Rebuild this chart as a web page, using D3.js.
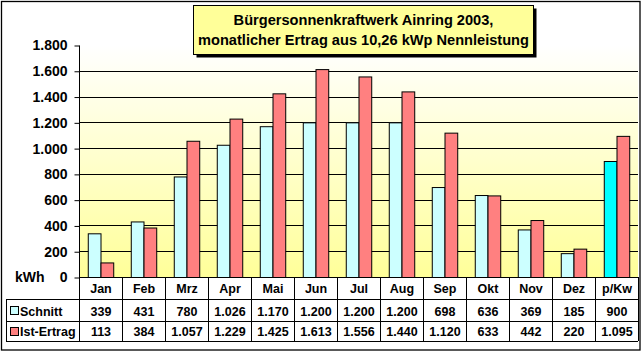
<!DOCTYPE html>
<html>
<head>
<meta charset="utf-8">
<script src="https://cdn.jsdelivr.net/npm/d3@7"></script>
<style>
  body { margin: 0; background: #fff; }
  text { font-family: "Liberation Sans", Arial, sans-serif; font-weight: bold; fill: #000; }
</style>
</head>
<body>
<div id="chart"></div>
<script>
// data
const months = ["Jan", "Feb", "Mrz", "Apr", "Mai", "Jun", "Jul", "Aug", "Sep", "Okt", "Nov", "Dez", "p/Kw"];
const schnitt = [339, 431, 780, 1026, 1170, 1200, 1200, 1200, 698, 636, 369, 185, 900];
const istErtrag = [113, 384, 1057, 1229, 1425, 1613, 1556, 1440, 1120, 633, 442, 220, 1095];
const seriesNames = ["Schnitt", "Ist-Ertrag"];
const yTicks = [0, 200, 400, 600, 800, 1000, 1200, 1400, 1600, 1800];
const titleLines = ["Bürgersonnenkraftwerk Ainring 2003,", "monatlicher Ertrag aus 10,26 kWp Nennleistung"];

const width = 644, height = 352;
const plot = {left: 79, right: 638, top: 45, bottom: 277};
const tableLeft = 6, rowH = [22, 22, 20];

const colors = {"Schnitt": "#CCFFFF", "Ist-Ertrag": "#FF8080"};
const highlight = "#00FFFF"; // last Schnitt bar

const de = d3.formatLocale({decimal: ",", thousands: ".", grouping: [3], currency: ["", "€"]});
const fmt = de.format(",d");

const svg = d3.select("#chart").append("svg")
  .attr("width", width).attr("height", height);

// outer frame
svg.append("rect")
  .attr("x", 1.5).attr("y", 1.5).attr("width", 638.5).attr("height", 348.5)
  .attr("fill", "#fff").attr("stroke", "#000").attr("stroke-width", 1.3);

const defs = svg.append("defs");
const grad = defs.append("linearGradient").attr("id", "bg").attr("x1", 0).attr("y1", 0).attr("x2", 0).attr("y2", 1);
grad.append("stop").attr("offset", "0%").attr("stop-color", "#FFFFFF");
grad.append("stop").attr("offset", "100%").attr("stop-color", "#FFFF99");

const x0 = d3.scaleBand().domain(months).range([plot.left, plot.right]).padding(0);
const barW = x0.bandwidth() * 0.296;
const x1 = d3.scaleBand().domain(seriesNames)
  .range([(x0.bandwidth() - 2 * barW) / 2, (x0.bandwidth() + 2 * barW) / 2]).padding(0);
const y = d3.scaleLinear().domain([0, 1800]).range([plot.bottom, plot.top]);

svg.append("rect")
  .attr("x", plot.left).attr("y", plot.top)
  .attr("width", plot.right - plot.left).attr("height", plot.bottom - plot.top)
  .attr("fill", "url(#bg)");

// gridlines
svg.append("g").selectAll("line")
  .data(yTicks.filter(d => d > 0 && d < 1800))
  .join("line")
  .attr("x1", plot.left).attr("x2", plot.right)
  .attr("y1", d => Math.round(y(d)) + 0.5).attr("y2", d => Math.round(y(d)) + 0.5)
  .attr("stroke", "#000");

// y axis
const yAxis = d3.axisLeft(y).tickValues(yTicks).tickSize(5).tickPadding(7)
  .tickFormat(d => fmt(d));
const yg = svg.append("g").attr("transform", `translate(${plot.left + 0.5},0.5)`).call(yAxis);
yg.select(".domain").attr("stroke", "#000").attr("d", `M0,${y(1800)}V${y(0)}`);
yg.selectAll(".tick line").attr("stroke", "#000");
yg.selectAll(".tick text")
  .style("font-family", '"Liberation Sans", Arial, sans-serif')
  .style("font-weight", "bold").style("font-size", "14px").attr("fill", "#000");

svg.append("text").attr("x", 15).attr("y", y(0) + 5)
  .style("font-size", "14px").text("kWh");

// bars
const rows = months.map((m, i) => ({m, i, vals: [schnitt[i], istErtrag[i]]}));
const groups = svg.append("g").selectAll("g")
  .data(rows).join("g")
  .attr("transform", d => `translate(${x0(d.m)},0)`);
groups.selectAll("rect")
  .data(d => seriesNames.map((s, k) => ({s, v: d.vals[k], last: d.i === months.length - 1})))
  .join("rect")
  .attr("x", d => x1(d.s) + 0.5)
  .attr("y", d => y(d.v) + 0.5)
  .attr("width", x1.bandwidth())
  .attr("height", d => y(0) - y(d.v))
  .attr("fill", d => (d.last && d.s === "Schnitt") ? highlight : colors[d.s])
  .attr("stroke", "#000").attr("stroke-width", 1);

// data table
const rowY = [plot.bottom, plot.bottom + rowH[0], plot.bottom + rowH[0] + rowH[1], plot.bottom + rowH[0] + rowH[1] + rowH[2]];
const tg = svg.append("g");
// horizontal lines
tg.append("line").attr("x1", plot.left).attr("x2", plot.right)
  .attr("y1", rowY[0] + 0.5).attr("y2", rowY[0] + 0.5).attr("stroke", "#000");
[1, 2, 3].forEach(r => {
  tg.append("line").attr("x1", tableLeft).attr("x2", plot.right)
    .attr("y1", rowY[r] + 0.5).attr("y2", rowY[r] + 0.5).attr("stroke", "#000");
});
// vertical lines
const vx = months.map(m => x0(m)).concat([plot.right]);
tg.selectAll("line.v").data(vx).join("line").attr("class", "v")
  .attr("x1", d => Math.round(d) + 0.5).attr("x2", d => Math.round(d) + 0.5)
  .attr("y1", rowY[0]).attr("y2", rowY[3]).attr("stroke", "#000");
tg.append("line").attr("x1", tableLeft + 0.5).attr("x2", tableLeft + 0.5)
  .attr("y1", rowY[1]).attr("y2", rowY[3]).attr("stroke", "#000");

const cx = m => x0(m) + x0.bandwidth() / 2 + 0.5;
tg.selectAll("text.cat").data(months).join("text").attr("class", "cat")
  .attr("x", cx).attr("y", rowY[0] + 15.5).attr("text-anchor", "middle")
  .style("font-size", "12.5px").text(d => d);

[schnitt, istErtrag].forEach((vals, k) => {
  const base = rowY[k + 1] + (k === 0 ? 16.5 : 15);
  tg.selectAll(`text.val${k}`).data(vals).join("text").attr("class", `val${k}`)
    .attr("x", (d, i) => cx(months[i])).attr("y", base).attr("text-anchor", "middle")
    .style("font-size", "12.5px").text(d => fmt(d));
  tg.append("rect").attr("x", 10.5).attr("y", rowY[k + 1] + (k === 0 ? 7.5 : 6.5))
    .attr("width", 8).attr("height", 8)
    .attr("fill", colors[seriesNames[k]]).attr("stroke", "#000");
  tg.append("text").attr("x", 20).attr("y", base)
    .style("font-size", "12.5px").text(seriesNames[k]);
});

// title box with shadow
const tb = {x: 193, y: 5, w: 340, h: 49};
svg.append("rect").attr("x", tb.x + 3.5).attr("y", tb.y + 3.5).attr("width", tb.w).attr("height", tb.h)
  .attr("fill", "#000");
svg.append("rect").attr("x", tb.x + 0.5).attr("y", tb.y + 0.5).attr("width", tb.w).attr("height", tb.h)
  .attr("fill", "#FFFF99").attr("stroke", "#000");
svg.selectAll("text.title").data(titleLines).join("text").attr("class", "title")
  .attr("x", tb.x + tb.w / 2 + 0.5).attr("y", (d, i) => 25 + i * 20)
  .attr("text-anchor", "middle").style("font-size", "14.6px").text(d => d);
</script>
</body>
</html>
